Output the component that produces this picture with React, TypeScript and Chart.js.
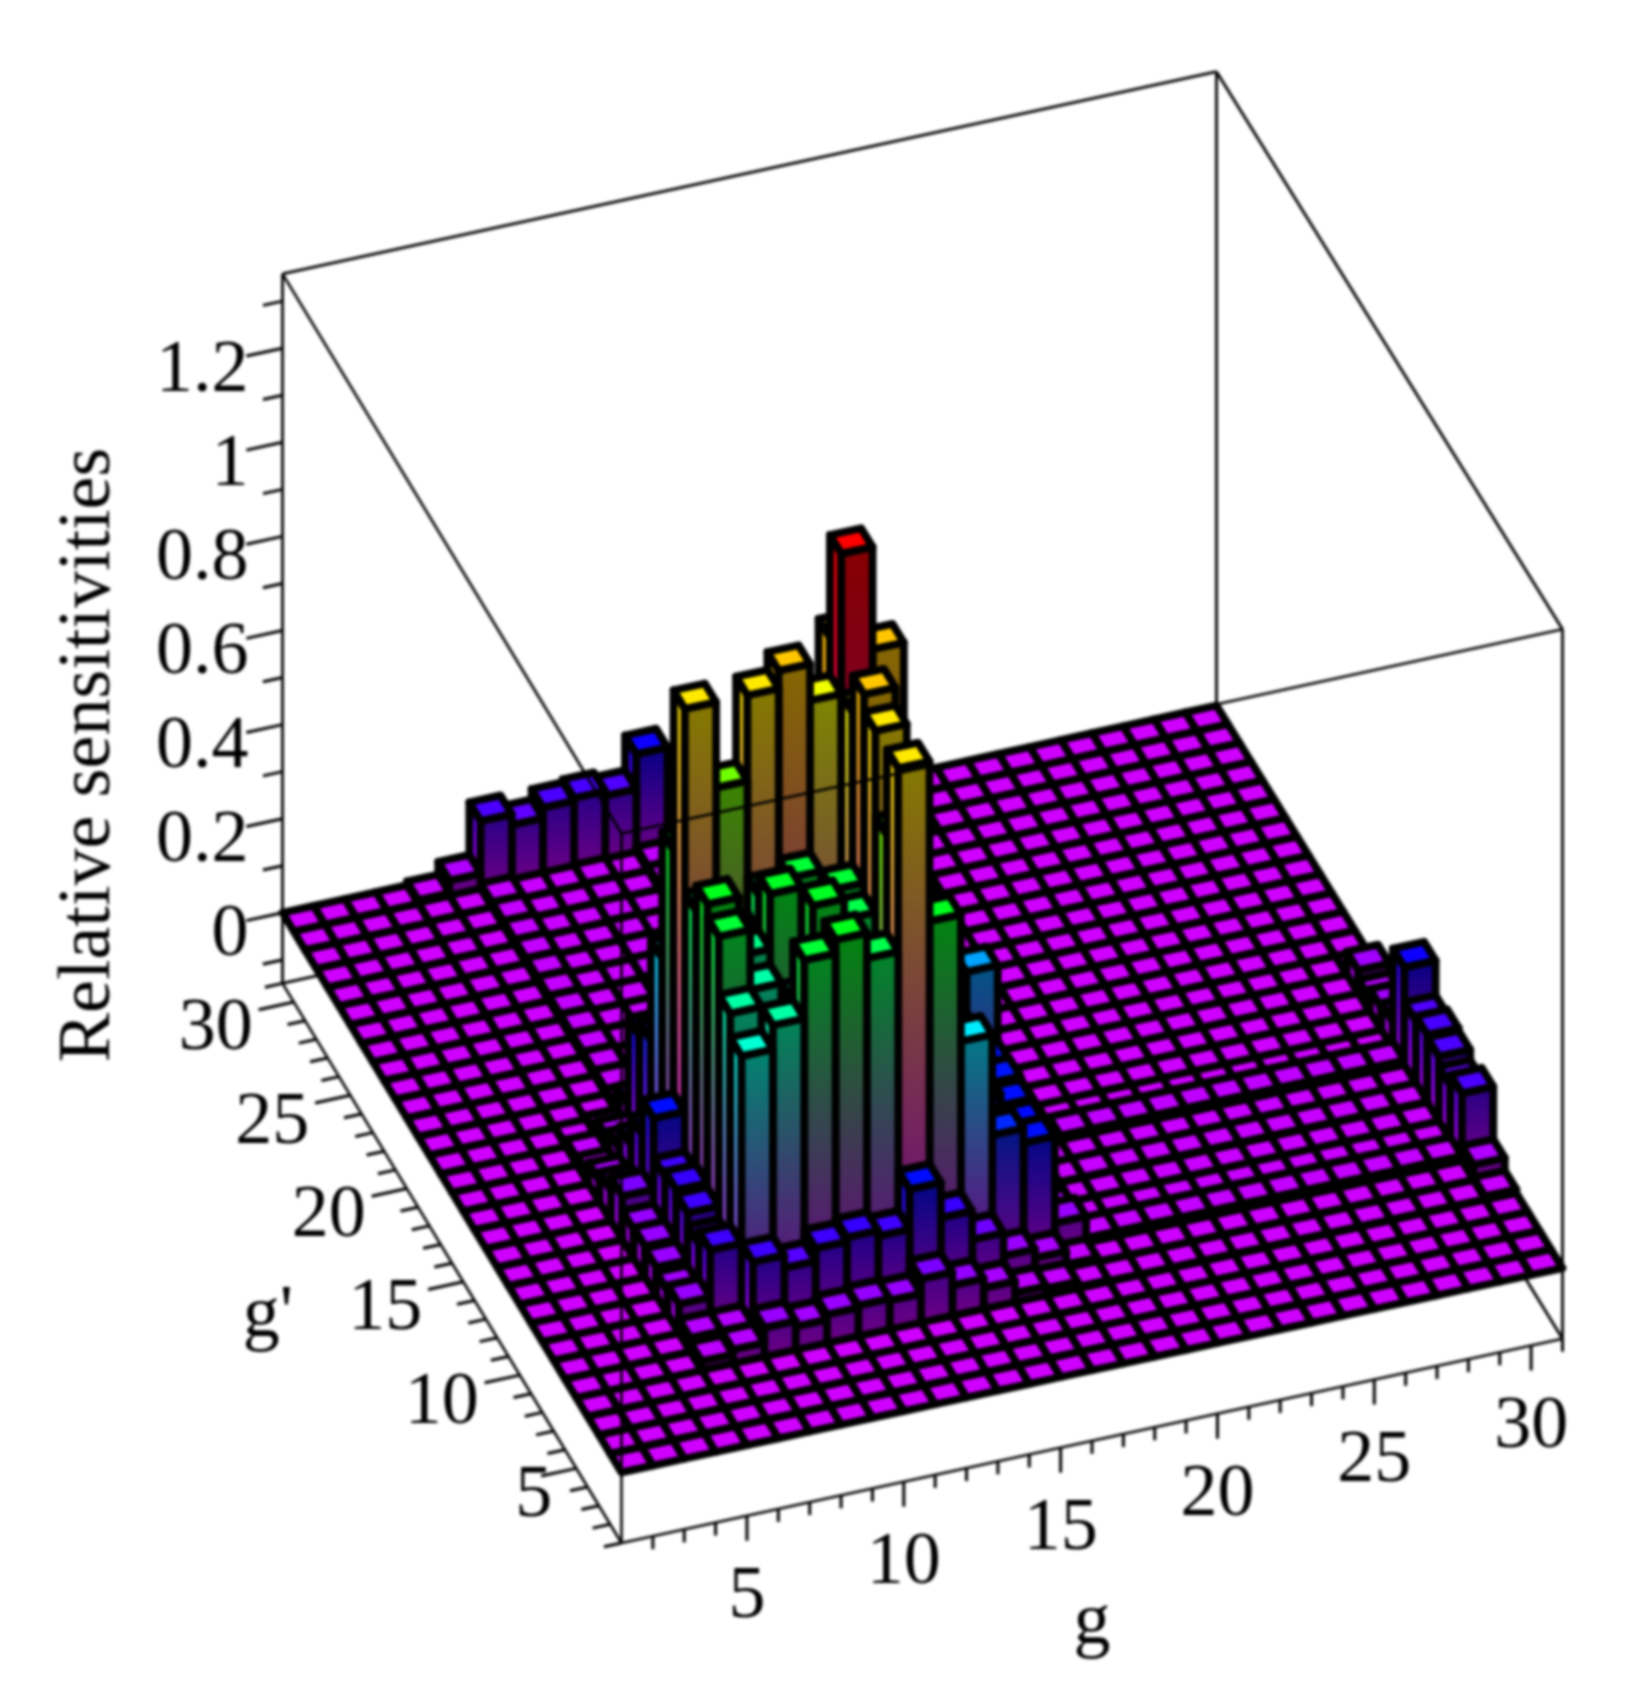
import React, { useEffect, useRef } from "react";
import { Chart, registerables } from "chart.js";

Chart.register(...registerables);

// Relative sensitivities: symmetric matrix, listed from the diagonal (g = g') to g = 30.
const firstRow = 5;
const row5 = [.02,.03,.062,.05,.061,.066,.062,.093,.065,.045,.02,.015,.004,.002,.002,.002,.002,.002,.002,.002,.002,.002,.002,.002,.002,.008];
const row6 = [.03,.162,.135,.162,.171,.159,.244,.169,.108,.059,.04,.012,.003,.003,.003,.003,.003,.003,.003,.003,.003,.003,.003,.003,.035];
const row7 = [.56,.611,.735,.764,.71,1.10,.76,.49,.276,.245,.06,.014,.014,.014,.014,.014,.014,.014,.014,.014,.014,.014,.014,.147];
const row8 = [.55,.607,.64,.64,.918,.65,.42,.24,.24,.04,.008,.008,.008,.008,.008,.008,.008,.008,.008,.008,.008,.008,.124];
const row9 = [.55,.757,.714,1.10,.70,.45,.27,.245,.04,.008,.008,.008,.008,.008,.008,.008,.008,.008,.008,.008,.008,.146];
const row10 = [.70,.737,1.138,.78,.50,.28,.253,.05,.01,.01,.01,.01,.01,.01,.01,.01,.01,.01,.01,.01,.152];
const row11 = [.68,1.06,.72,.45,.27,.25,.04,.008,.008,.008,.008,.008,.008,.008,.008,.008,.008,.008,.008,.142];
const row12 = [1.358,1.14,.6,.4,.41,.07,.018,.018,.018,.018,.018,.018,.018,.018,.018,.018,.018,.018,.216];
const row13 = [.8,.45,.3,.25,.05,.003,.003,.003,.003,.003,.003,.003,.003,.003,.003,.003,.003,.06];
const row14 = [.35,.2,.15,.03,.002,.002,.002,.002,.002,.002,.002,.002,.002,.002,.002,.002,.05];
const row15 = [.1,.08,.015,.001,.001,.001,.001,.001,.001,.001,.001,.001,.001,.001,.001,.03];
const row16 = [.06,.015,.001,.001,.001,.001,.001,.001,.001,.001,.001,.001,.001,.001,.05];
const rows = [row5, row6, row7, row8, row9, row10, row11, row12, row13, row14, row15, row16];

const gLabels = [5, 10, 15, 20, 25, 30];
const zLabels = [0, 0.2, 0.4, 0.6, 0.8, 1, 1.2];
const yTitle = "Relative sensitivities";
const gTitle = "g";
const gpTitle = "g'";

const cellCount = 30;
const zMax = 1.358;
const zMin = -0.15;

function buildCells() {
  const m: number[][] = [];
  for (let i = 0; i <= cellCount; i++) m.push(new Array(cellCount + 1).fill(0));
  rows.forEach((r, k) => {
    const gp = firstRow + k;
    r.forEach((v, j) => {
      const g = gp + j;
      m[g][gp] = v;
      m[gp][g] = v;
    });
  });
  const cells: { x: number; y: number; z: number }[] = [];
  for (let gp = cellCount; gp >= 1; gp--) {
    for (let g = cellCount; g >= 1; g--) {
      cells.push({ x: g, y: gp, z: m[g][gp] });
    }
  }
  return cells;
}

function hsv(h: number, k: number) {
  const f = (n: number) => {
    const t = (n + h / 60) % 6;
    return Math.round(255 * k * (1 - Math.max(0, Math.min(t, 4 - t, 1))));
  };
  return `rgb(${f(5)},${f(3)},${f(1)})`;
}
const hueOf = (z: number) => 289 * (1 - Math.min(z, zMax) / zMax);

const origin = { x: 621.5, y: 1472.4 };
const gSpan = { x: 941, y: -204.3 };
const pSpan = { x: -339, y: -559.6 };
const skew = { x: -7, y: -3 };

const plugin = {
  id: "box3d",
  afterDatasetsDraw(chart: any) {
    const c: CanvasRenderingContext2D = chart.ctx;
    const sx = chart.scales.x;
    const sy = chart.scales.y;
    const sz = chart.scales.z;
    const frac = (s: any, v: number) => s.getDecimalForPixel(s.getPixelForValue(v));
    const zLen = (zMax - zMin) * 470.5;
    const zBase = frac(sz, 0);
    const P = (g: number, p: number, z: number) => {
      const fg = frac(sx, g);
      const fp = frac(sy, p);
      const fz = frac(sz, z) - zBase;
      return {
        x: origin.x + fg * gSpan.x + fp * pSpan.x + fg * fp * skew.x,
        y: origin.y + fg * gSpan.y + fp * pSpan.y + fg * fp * skew.y - fz * zLen * (1 - 0.008 * fg * fp),
      };
    };
    const gA = sx.min, gB = sx.max, pA = sy.min, pB = sy.max, zA = sz.min, zB = sz.max;
    const line = (a: any, b: any, w: number, col = "#000") => {
      c.strokeStyle = col;
      c.lineWidth = w;
      c.beginPath();
      c.moveTo(a.x, a.y);
      c.lineTo(b.x, b.y);
      c.stroke();
    };
    c.save();
    c.lineCap = "butt";
    // back edges of the box
    const backEdges = [
      [P(gA, pB, zB), P(gB, pB, zB)],
      [P(gB, pB, zB), P(gB, pA, zB)],
      [P(gB, pB, zB), P(gB, pB, zA)],
      [P(gA, pB, zA), P(gB, pB, zA)],
      [P(gB, pB, zA), P(gB, pA, zA)],
      [P(gA, pB, zB), P(gA, pB, zA)],
      [P(gB, pA, zB), P(gB, pA, zA)],
    ];
    backEdges.forEach(([a, b]) => line(a, b, 2.8));

    // bars, far cells first
    c.lineJoin = "round";
    const poly = (pts: any[], fill: any) => {
      c.beginPath();
      pts.forEach((q, i) => (i ? c.lineTo(q.x, q.y) : c.moveTo(q.x, q.y)));
      c.closePath();
      c.fillStyle = fill;
      c.fill();
      c.strokeStyle = "#000";
      c.lineWidth = 7.8;
      c.stroke();
    };
    const zeroHue = hueOf(0);
    chart.data.datasets[0].data.forEach((d: any) => {
      const g0 = d.x, g1 = d.x + 1, p0 = d.y, p1 = d.y + 1, z = d.z;
      const hue = hueOf(z);
      if (z > 0.0005) {
        const yBot = P(g0, p0, 0).y;
        const grad = (k: number, top: number, bot: number) => {
          const gr = c.createLinearGradient(0, top, 0, bot);
          gr.addColorStop(0, hsv(hue, k));
          gr.addColorStop(1, hsv(zeroHue, k));
          return gr;
        };
        // left face (looks towards low g)
        poly(
          [P(g0, p0, 0), P(g0, p1, 0), P(g0, p1, z), P(g0, p0, z)],
          grad(0.85, P(g0, p1, z).y, yBot)
        );
        // front face (looks towards low g')
        poly(
          [P(g0, p0, 0), P(g1, p0, 0), P(g1, p0, z), P(g0, p0, z)],
          grad(0.52, P(g1, p0, z).y, yBot)
        );
      }
      poly([P(g0, p0, z), P(g1, p0, z), P(g1, p1, z), P(g0, p1, z)], hsv(hue, 1));
    });

    // front edges of the box, over the bars
    const frontEdges = [
      [P(gA, pB, zB), P(gA, pA, zB)],
      [P(gA, pA, zB), P(gB, pA, zB)],
      [P(gA, pA, zB), P(gA, pA, zA)],
      [P(gA, pA, zA), P(gA, pB, zA)],
      [P(gA, pA, zA), P(gB, pA, zA)],
    ];
    frontEdges.forEach(([a, b]) => line(a, b, 2.6));

    // axes ticks
    const dirLen = Math.hypot(gSpan.x, gSpan.y);
    const ux = -gSpan.x / dirLen, uy = -gSpan.y / dirLen;
    const tickW = 3;
    sx.ticks.forEach((t: any) => {
      const v = Math.round(t.value);
      if (v === gA) return;
      const a = P(v, pA, zA);
      const len = v % 5 === 0 ? 25 : 13;
      line(a, { x: a.x, y: a.y + len }, tickW);
    });
    sy.ticks.forEach((t: any) => {
      const v = Math.round(t.value);
      const a = P(gA, v, zA);
      const len = v % 5 === 0 ? 36 : 18;
      line(a, { x: a.x + ux * len, y: a.y + uy * len }, tickW);
    });
    sz.ticks.forEach((t: any) => {
      const v = Math.round(t.value * 10) / 10;
      if (v < zA || v > zB) return;
      const a = P(gA, pB, v);
      const major = Math.round(v * 10) % 2 === 0;
      const len = major ? 37 : 20;
      line(a, { x: a.x + ux * len, y: a.y + uy * len }, tickW);
    });

    // labels
    c.fillStyle = "#000";
    c.font = '74px "Liberation Serif"';
    c.textBaseline = "middle";
    c.textAlign = "center";
    gLabels.forEach((v) => {
      const a = P(v, pA, zA);
      c.fillText(String(v), a.x, a.y + 82);
    });
    c.textAlign = "right";
    gLabels.forEach((v) => {
      const a = P(gA, v, zA);
      c.fillText(String(v), a.x - (v < 10 ? 24 : 41), a.y + 28);
    });
    zLabels.forEach((v) => {
      const a = P(gA, pB, v);
      c.fillText(String(v), a.x - 34, a.y + 23);
    });
    c.textAlign = "center";
    c.fillText(gTitle, 1092, 1624);
    c.fillText(gpTitle, 268, 1317);
    c.translate(90, 755);
    c.rotate(-Math.PI / 2);
    c.fillText(yTitle, 0, 0);
    c.restore();
  },
};

export default function App() {
  const ref = useRef<HTMLCanvasElement | null>(null);
  useEffect(() => {
    if (!ref.current) return;
    const chart = new Chart(ref.current, {
      type: "scatter",
      data: {
        datasets: [
          { label: yTitle, data: buildCells() as any, pointRadius: 0, parsing: false } as any,
        ],
      },
      options: {
        animation: false,
        responsive: false,
        devicePixelRatio: 1,
        events: [],
        layout: { padding: 0 },
        plugins: { legend: { display: false }, tooltip: { enabled: false } },
        scales: {
          x: { type: "linear", min: 1, max: 31, display: false, ticks: { stepSize: 1, autoSkip: false, maxTicksLimit: 40 } },
          y: { type: "linear", min: 1, max: 31, display: false, ticks: { stepSize: 1, autoSkip: false, maxTicksLimit: 40 } },
          z: { type: "linear", axis: "y", position: "left", min: zMin, max: zMax, display: false, ticks: { stepSize: 0.1, autoSkip: false, maxTicksLimit: 40 } },
        },
      } as any,
      plugins: [plugin],
    });
    return () => chart.destroy();
  }, []);
  return (
    <div style={{ position: "absolute", left: 0, top: 0, width: 1636, height: 1704, background: "#fff" }}>
      <canvas ref={ref} width={1636} height={1704} style={{ display: "block", filter: "blur(1.7px)" }} />
    </div>
  );
}
